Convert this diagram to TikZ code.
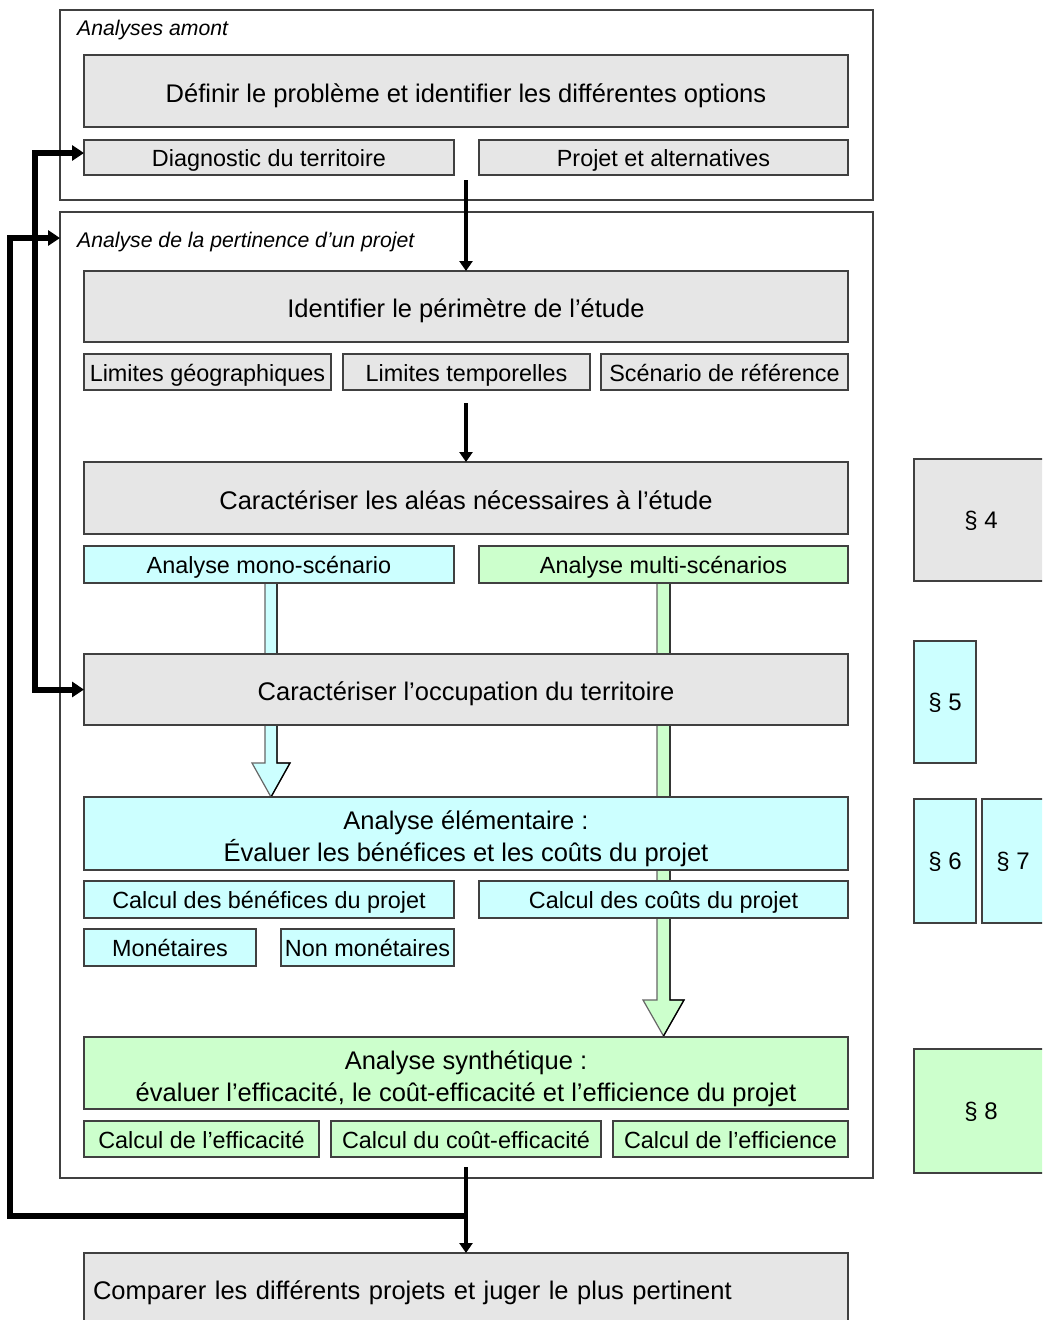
\documentclass[tikz,border=0pt]{standalone}
\usepackage{fontspec}
\setmainfont{Liberation Sans}
\usetikzlibrary{arrows.meta}
\definecolor{boxgray}{HTML}{E6E6E6}
\definecolor{boxcyan}{HTML}{CCFFFF}
\definecolor{boxgreen}{HTML}{CCFFCC}
\definecolor{edgecol}{HTML}{404040}
\begin{document}
\begin{tikzpicture}[x=1pt,y=-1pt,
  basebox/.style={draw=edgecol, line width=1.4pt, inner sep=0pt, outer sep=0pt, anchor=north west, align=center},
  box/.style={basebox, font=\fontsize{23.4}{32}\selectfont, text height=22pt, text depth=4pt},
  bigbox/.style={basebox, font=\fontsize{25.5}{32}\selectfont, text height=26pt, text depth=4pt},
  twoline/.style={basebox, font=\fontsize{25.5}{32}\selectfont},
  secbox/.style={basebox, font=\fontsize{24}{32}\selectfont, text height=21pt, text depth=4pt},
  framebox/.style={draw=edgecol, line width=1.4pt, inner sep=0pt, outer sep=0pt, anchor=north west},
  fgray/.style={fill=boxgray},
  fcyan/.style={fill=boxcyan},
  fgreen/.style={fill=boxgreen},
  framelabel/.style={anchor=west, inner sep=0pt, font=\itshape\fontsize{21.2}{24}\selectfont, text height=19pt, text depth=4pt},
  thinarrow/.style={line width=3.8pt, -{Triangle[length=10pt,width=13pt]}},
  thickarrow/.style={line width=6pt, miter limit=10},
  blockarrow/.style={draw=black!60, line width=1.2pt},
]
\useasboundingbox (0,0) rectangle (1042,1320);
\clip (0,0) rectangle (1042,1320);

% frames
\node[framebox, minimum width=813pt, minimum height=190pt] (frame1) at (60,10) {};
\node[framebox, minimum width=813pt, minimum height=966pt] (frame2) at (60,212) {};
\node[framelabel] (lab1) at (77,28) {Analyses amont};
\node[framelabel] (lab2) at (77,240) {Analyse de la pertinence d’un projet};

% block arrows (behind boxes)
\filldraw[blockarrow, fill=boxcyan] (265,583) -- (265,763) -- (252,763) -- (271,797) -- (290,763) -- (277,763) -- (277,583);
\filldraw[blockarrow, fill=boxgreen] (657,583) -- (657,1000) -- (643,1000) -- (663.5,1036) -- (684,1000) -- (670,1000) -- (670,583);
\draw[black, line width=1.3pt] (277,583) -- (277,763) -- (290,763) -- (271,797);
\draw[black, line width=1.3pt] (670,583) -- (670,1000) -- (684,1000) -- (663.5,1036);

% upstream analyses
\node[bigbox, fgray, minimum width=764pt, minimum height=72pt] (def) at (84,55) {Définir le problème et identifier les différentes options};
\node[box, fgray, minimum width=370pt, minimum height=35pt] (diag) at (84,140) {Diagnostic du territoire};
\node[box, fgray, minimum width=369pt, minimum height=35pt] (proj) at (479,140) {Projet et alternatives};

% perimeter
\node[bigbox, fgray, minimum width=764pt, minimum height=71pt] (ident) at (84,271) {Identifier le périmètre de l’étude};
\node[box, fgray, minimum width=247pt, minimum height=36pt] (lg) at (84,354) {Limites géographiques};
\node[box, fgray, minimum width=247pt, minimum height=36pt] (lt) at (343,354) {Limites temporelles};
\node[box, fgray, minimum width=247pt, minimum height=36pt] (sr) at (601,354) {Scénario de référence};

% hazards
\node[bigbox, fgray, minimum width=764pt, minimum height=72pt] (alea) at (84,462) {Caractériser les aléas nécessaires à l’étude};
\node[box, fcyan, minimum width=370pt, minimum height=37pt] (mono) at (84,546) {Analyse mono-scénario};
\node[box, fgreen, minimum width=369pt, minimum height=37pt] (multi) at (479,546) {Analyse multi-scénarios};

% land use
\node[bigbox, fgray, minimum width=764pt, minimum height=71pt] (occ) at (84,654) {Caractériser l’occupation du territoire};

% elementary analysis
\node[twoline, fcyan, minimum width=764pt, minimum height=73pt] (elem) at (84,797) {\rule{0pt}{30pt}Analyse élémentaire :\\Évaluer les bénéfices et les coûts du projet};
\node[box, fcyan, minimum width=370pt, minimum height=37pt] (cb) at (84,881) {Calcul des bénéfices du projet};
\node[box, fcyan, minimum width=369pt, minimum height=37pt] (cc) at (479,881) {Calcul des coûts du projet};
\node[box, fcyan, minimum width=172pt, minimum height=37pt] (mon) at (84,929) {Monétaires};
\node[box, fcyan, minimum width=173pt, minimum height=37pt] (nmon) at (281,929) {Non monétaires};

% synthetic analysis
\node[twoline, fgreen, minimum width=764pt, minimum height=72pt] (synth) at (84,1037) {\rule{0pt}{30pt}Analyse synthétique :\\évaluer l’efficacité, le coût-efficacité et l’efficience du projet};
\node[box, fgreen, minimum width=235pt, minimum height=36pt] (ceff) at (84,1121) {Calcul de l’efficacité};
\node[box, fgreen, minimum width=270pt, minimum height=36pt] (ccout) at (331,1121) {Calcul du coût-efficacité};
\node[box, fgreen, minimum width=235pt, minimum height=36pt] (cefi) at (613,1121) {Calcul de l’efficience};

% comparison
\node[bigbox, fgray, inner xsep=9pt, text width=746pt, align=left, minimum height=70pt] (comp) at (84,1253) {Comparer les différents projets et juger le plus pertinent};

% section references
\node[secbox, fgray, minimum width=134pt, minimum height=122pt] (p4) at (914,459) {§ 4};
\node[secbox, fcyan, minimum width=62pt, minimum height=122pt] (p5) at (914,641) {§ 5};
\node[secbox, fcyan, minimum width=62pt, minimum height=124pt] (p6) at (914,799) {§ 6};
\node[secbox, fcyan, minimum width=62pt, minimum height=124pt] (p7) at (982,799) {§ 7};
\node[secbox, fgreen, minimum width=134pt, minimum height=124pt] (p8) at (914,1049) {§ 8};

% thin arrows
\coordinate (a1) at (466,180);
\coordinate (a2) at (466,403);
\coordinate (a3) at (466,1167);
\draw[thinarrow] (a1) -- (ident.north);
\draw[thinarrow] (a2) -- (alea.north);
\draw[thinarrow] (a3) -- (comp.north);

% feedback loops
\coordinate (d1) at ([yshift=4.5pt]diag.west);
\coordinate (b1) at (35,153);
\coordinate (b2) at (35,689.5);
\draw[thickarrow, {Triangle[length=12pt,width=15pt]}-{Triangle[length=12pt,width=15pt]}] (d1) -- (b1) -- (b2) -- (occ.west);

\coordinate (f0) at (466,1216);
\coordinate (f1) at (10,1216);
\coordinate (f2) at (10,238);
\coordinate (f3) at (60,238);
\draw[thickarrow, -{Triangle[length=12pt,width=15pt]}] (f0) -- (f1) -- (f2) -- (f3);
\end{tikzpicture}
\end{document}
